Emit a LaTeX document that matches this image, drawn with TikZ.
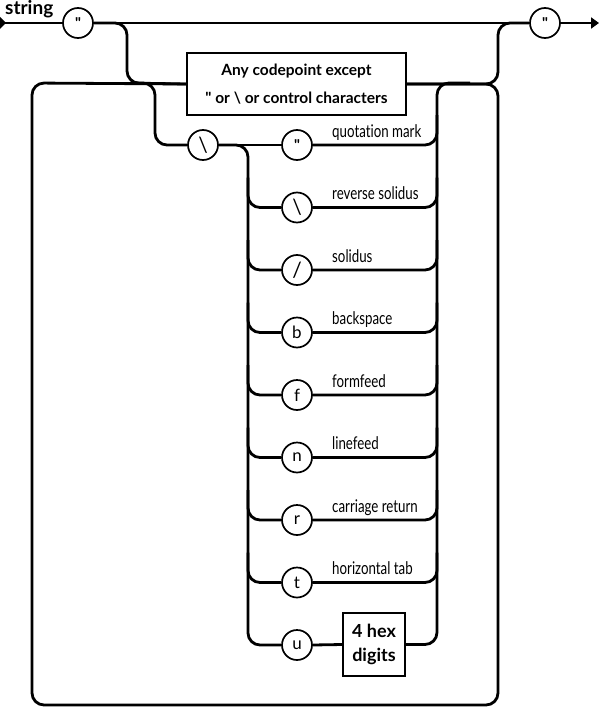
\documentclass[tikz,border=0pt]{standalone}
\usepackage{fontspec}
\newfontfamily\mainf{Lato}
\newfontfamily\lblfont[FakeStretch=0.76,Ligatures=NoCommon]{Lato}
\usetikzlibrary{arrows.meta}
\begin{document}
\begin{tikzpicture}[x=1pt,y=-1pt,
  rail/.style={line width=2.8pt, rounded corners=12pt, line join=round},
  term/.style={circle, draw, line width=1.7pt, minimum size=30pt, inner sep=0pt, fill=white,
    font=\mainf\fontsize{17}{17}\selectfont},
  qterm/.style={term, font=\mainf\bfseries\fontsize{15}{15}\selectfont},
  sterm/.style={term, font=\mainf\fontsize{21}{21}\selectfont},
  nterm/.style={draw, line width=1.8pt, inner sep=0pt, fill=white, align=center},
  lbl/.style={anchor=base west, inner sep=0pt, font=\lblfont\fontsize{17.5}{17.5}\selectfont},
  title/.style={anchor=base west, inner sep=0pt, font=\mainf\fontsize{19}{19}\selectfont\bfseries}
]
\useasboundingbox (0,0) rectangle (600,709);

% junction coordinates
\coordinate (start) at (0,23);
\coordinate (end) at (599,23);
\coordinate (j1) at (130,83);
\coordinate (j2) at (470,83);

\node[title] (ttl) at (5,15) {string};

% main terminals
\node[qterm] (q1) at (78,23) {"};
\node[qterm] (q2) at (545,23) {"};

% main boxes
\node[nterm, minimum width=219pt, minimum height=62pt,
  font=\mainf\fontsize{15.5}{28}\selectfont\bfseries] (any) at (296.5,84)
  {Any codepoint except\\" or \textbackslash{} or control characters};

\node[sterm] (esc) at (203,145) {\textbackslash};

% alternatives
\node[qterm] (c1) at (297,145) {"};
\node[sterm] (c2) at (297,207.5) {\textbackslash};
\node[sterm] (c3) at (297,270) {/};
\node[term] (c4) at (297,332.5) {b};
\node[term] (c5) at (297,395) {f};
\node[term] (c6) at (297,457.5) {n};
\node[term] (c7) at (297,520) {r};
\node[term] (c8) at (297,582.5) {t};
\node[term] (c9) at (297,645) {u};
\node[nterm, minimum width=62pt, minimum height=63pt,
  font=\mainf\fontsize{18}{24}\selectfont\bfseries] (hex) at (374,644.5) {4 hex\\digits};

\node[lbl] (l1) at (332,137) {quotation mark};
\node[lbl] (l2) at (332,199.5) {reverse solidus};
\node[lbl] (l3) at (332,262) {solidus};
\node[lbl] (l4) at (332,324.5) {backspace};
\node[lbl] (l5) at (332,387) {formfeed};
\node[lbl] (l6) at (332,449.5) {linefeed};
\node[lbl] (l7) at (332,512) {carriage return};
\node[lbl] (l8) at (332,574.5) {horizontal tab};

% main line
\fill (0,17) -- (6,23) -- (0,29) -- cycle;
\draw[rail] (start) -- (q1.west);
\draw[rail] (q1.east) -- (q2.west);
\draw[rail, -{Triangle[length=8pt,width=11pt]}] (q2.east) -- (end);

% bypass to the box line and back
\draw[rail] (q1.east) -| (127,83) -- (any.west);
\draw[rail] (any.east) -| (498,23) -- (q2.west);

% repeat loop
\draw[rail] (any.east) -| (498,705) -| (32,83) -- (any.west);

% escape branch
\draw[rail] (j1) -| (155,145) -- (esc.west);
\draw[rail] (esc.east) -- (c1.west);
\draw[rail] (esc.east) -| (248,645) -- (c9.west);
\draw[rail] (c9.east) -- (hex.west);
\draw[rail] (hex.east) -| (437,83) -- (j2);

\foreach \i/\y in {2/207.5,3/270,4/332.5,5/395,6/457.5,7/520,8/582.5}{
  \coordinate (L\i) at (248,\y-30);
  \draw[rail] (L\i) |- (c\i.west);
}
\foreach \i/\y in {1/145,2/207.5,3/270,4/332.5,5/395,6/457.5,7/520,8/582.5}{
  \coordinate (R\i) at (437,\y-30);
  \draw[rail] (c\i.east) -| (R\i);
}
\end{tikzpicture}
\end{document}
